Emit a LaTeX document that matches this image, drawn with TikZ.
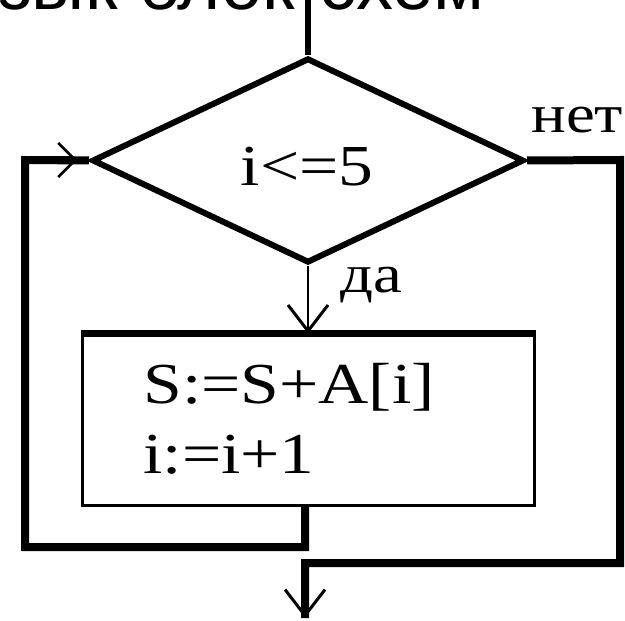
\documentclass[tikz,border=0pt]{standalone}
\usepackage{fontspec}
\setmainfont{Liberation Serif}
\newfontfamily\bmfont[FakeStretch=1.2]{Liberation Serif}
\newfontfamily\titlefont{Liberation Sans}
\usetikzlibrary{shapes.geometric,arrows.meta}
\begin{document}
\begin{tikzpicture}[x=0.5pt,y=-0.5pt,
  titletext/.style={font=\titlefont\fontsize{37pt}{40pt}\selectfont, inner sep=0pt},
  bmtext/.style={font=\bmfont\fontsize{29pt}{32pt}\selectfont, inner sep=0pt},
  lbltext/.style={font=\bmfont\fontsize{27pt}{30pt}\selectfont, inner sep=0pt},
  decision/.style={diamond, draw, line width=3pt, minimum width=216pt, minimum height=102.5pt, inner sep=0pt},
  actionbox/.style={rectangle, draw, line width=1.5pt, minimum width=226pt, minimum height=85pt, inner sep=0pt},
  boxtop/.style={line width=3.5pt},
  loopline/.style={line width=4pt},
  flowline/.style={line width=3pt},
  thinline/.style={line width=1pt},
  bigtip/.style={-{Straight Barb[length=13pt,width=20pt,line width=1.5pt]}},
  smalltip/.style={-{Straight Barb[length=8.5pt,width=17pt,line width=1.3pt]}}
]
\useasboundingbox (0,0) rectangle (625,620);
\clip (0,0) rectangle (625,620);

% title (cut off at the top)
\node[titletext, anchor=base east] (title) at (485,10) {Язык блок-схем};

% shapes
\node[decision] (dia) at (308,160.5) {};
\node[bmtext, anchor=base] (cond) at (307,185) {i<=5};
\node[lbltext, anchor=base west] (no) at (531,133) {нет};
\node[lbltext, anchor=base west] (yes) at (340,292) {да};

\node[actionbox] (box) at (308,420) {};
\draw[boxtop] (box.north west) -- (box.north east);
\node[bmtext, anchor=base west] (s1) at (143,403) {S:=S+A[i]};
\node[bmtext, anchor=base west] (s2) at (143,473) {i:=i+1};

% coordinates
\coordinate (topc) at (308,0);
\coordinate (r1) at (620,160);
\coordinate (r2) at (620,563);
\coordinate (r3) at (305,563);
\coordinate (endc) at (305,618);
\coordinate (bx) at (305,505);
\coordinate (l1) at (305,547);
\coordinate (l2) at (25,547);
\coordinate (l3) at (25,160);
\coordinate (ltip) at (77,160);

% connectors
\draw[flowline] (topc) -- (dia.north);
\draw[thinline, bigtip] (dia.south) -- (box.north);
\draw[loopline] (dia.east) -- (r1) -- (r2) -- (r3) -- (endc);
\draw[loopline, bigtip] (r3) -- (endc);
\draw[loopline] (bx) -- (l1) -- (l2) -- (l3) -- (dia.west);
\draw[loopline, smalltip] (l3) -- (ltip);
\end{tikzpicture}
\end{document}
